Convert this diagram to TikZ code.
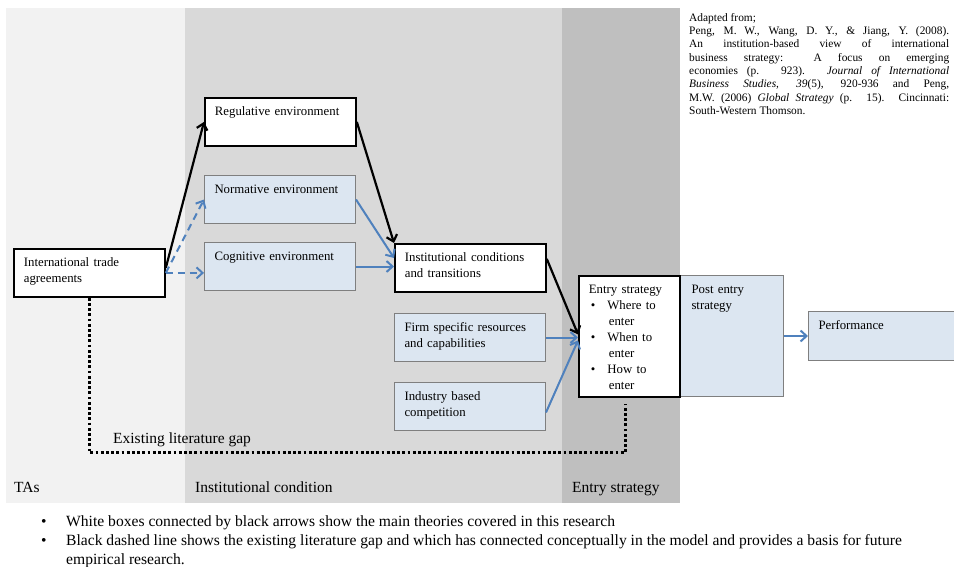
\documentclass[tikz,border=0pt]{standalone}
\usepackage{fontspec}
\setmainfont{Liberation Serif}
\usetikzlibrary{arrows.meta}

\definecolor{panelTA}{HTML}{F2F2F2}
\definecolor{panelInst}{HTML}{D9D9D9}
\definecolor{panelEntry}{HTML}{BFBFBF}
\definecolor{boxblue}{HTML}{DCE6F1}
\definecolor{boxgray}{HTML}{7F7F7F}
\definecolor{arrowblue}{HTML}{4F81BD}

\begin{document}
\begin{tikzpicture}[x=1pt, y=-1pt,
    box/.style={rectangle, draw, line width=1.8pt, fill=white, anchor=north west,
        text width=131pt, align=left, inner xsep=10pt, inner ysep=3pt,
        text height=15pt, text depth=27pt, font=\fontsize{12.8}{16}\selectfont},
    bluebox/.style={box, fill=boxblue, draw=boxgray, line width=1pt},
    arrow/.style={-{Straight Barb[length=6pt,width=11pt]}, line width=2.2pt},
    bluearrow/.style={arrow, arrowblue, line width=2pt},
    gapline/.style={line width=2.8pt, dash pattern=on 2.8pt off 2.4pt},
    panel/.style={font=\fontsize{15.5}{18}\selectfont, anchor=base west, inner sep=0pt}
]
    \useasboundingbox (0,0) rectangle (954,567);
    \clip (0,0) rectangle (954,567);

    % Panels
    \fill[panelTA] (6,8) rectangle (185,503);
    \fill[panelInst] (185,8) rectangle (562,503);
    \fill[panelEntry] (562,8) rectangle (680,503);
    \node[panel] (tas) at (14,492) {TAs};
    \node[panel] (instlabel) at (195,492) {Institutional condition};
    \node[panel] (entrylabel) at (572,492) {Entry strategy};

    % Boxes
    \node[box] (ita) at (13,248) {International trade\\agreements};
    \node[box] (reg) at (204,97) {Regulative environment};
    \node[bluebox] (norm) at (204,175) {Normative environment};
    \node[bluebox] (cog) at (204,242) {Cognitive environment};
    \node[box] (inst) at (394,243) {Institutional conditions\\and transitions};
    \node[bluebox] (firm) at (394,313) {Firm specific resources\\and capabilities};
    \node[bluebox] (ind) at (394,382) {Industry based\\competition};

    % Entry and post entry
    \node[bluebox, text width=81pt, text depth=100pt, inner xsep=11pt] (post) at (680,275)
        {Post entry\\strategy};
    \node[box, text width=81pt, text depth=100pt] (entry) at (578,275)
        {Entry strategy\\
         \hspace*{2pt}\textbullet\hspace{12pt}Where to\\ \hspace*{20pt}enter\\
         \hspace*{2pt}\textbullet\hspace{12pt}When to\\ \hspace*{20pt}enter\\
         \hspace*{2pt}\textbullet\hspace{12pt}How to\\ \hspace*{20pt}enter};
    \node[bluebox, text width=150pt, text depth=28pt] (perf) at (808,311) {Performance};

    % Arrows
    \draw[arrow] ([yshift=5pt]ita.east) -- (reg.west);
    \draw[bluearrow, dash pattern=on 7pt off 5pt] (ita.east) -- (norm.west);
    \draw[bluearrow, dash pattern=on 7pt off 5pt] (ita.east) -- (ita.east -| cog.west);
    \draw[arrow] (reg.east) -- (inst.north west);
    \draw[bluearrow] (norm.east) -- ([yshift=-15pt]inst.north west);
    \draw[bluearrow] (cog.east) -- (cog.east -| inst.west);
    \draw[arrow] ([yshift=9pt]inst.east) -- ([yshift=2pt]entry.west);
    \draw[bluearrow] (firm.east) -- (firm.east -| entry.west);
    \draw[bluearrow] ([yshift=-6pt]ind.east) -- ([yshift=-4pt]entry.west);
    \draw[bluearrow] (post.east) -- (post.east -| perf.west);

    % Literature gap
    \draw[gapline] (ita.south) -- ++(0,155) -| ([xshift=-4pt, yshift=-6pt]entry.south);
    \node[panel] (gaplabel) at (113,443) {Existing literature gap};

    % Source
    \node[anchor=north west, text width=260pt, align=justify, inner sep=0pt,
        font=\fontsize{11.4}{13.3}\selectfont] (source) at (689,13)
        {Adapted from;\\
         Peng, M. W., Wang, D. Y., \& Jiang, Y. (2008).\linebreak
         An institution-based view of international\linebreak
         business strategy: A focus on emerging\linebreak
         economies (p. 923). \textit{Journal of International}\linebreak
         \textit{Business Studies, 39}(5), 920-936 and Peng,\linebreak
         M.W. (2006) \textit{Global Strategy} (p. 15). Cincinnati:\linebreak
         South-Western Thomson.};

    % Notes
    \node[anchor=north west, inner sep=0pt, font=\fontsize{15.6}{19}\selectfont] (notes) at (41,513)
        {\begin{tabular}{@{}p{25pt}@{}p{880pt}@{}}
         \textbullet & White boxes connected by black arrows show the main theories covered in this research\\
         \textbullet & Black dashed line shows the existing literature gap and which has connected conceptually in the model and provides a basis for future\\
         & empirical research.
         \end{tabular}};
\end{tikzpicture}
\end{document}
